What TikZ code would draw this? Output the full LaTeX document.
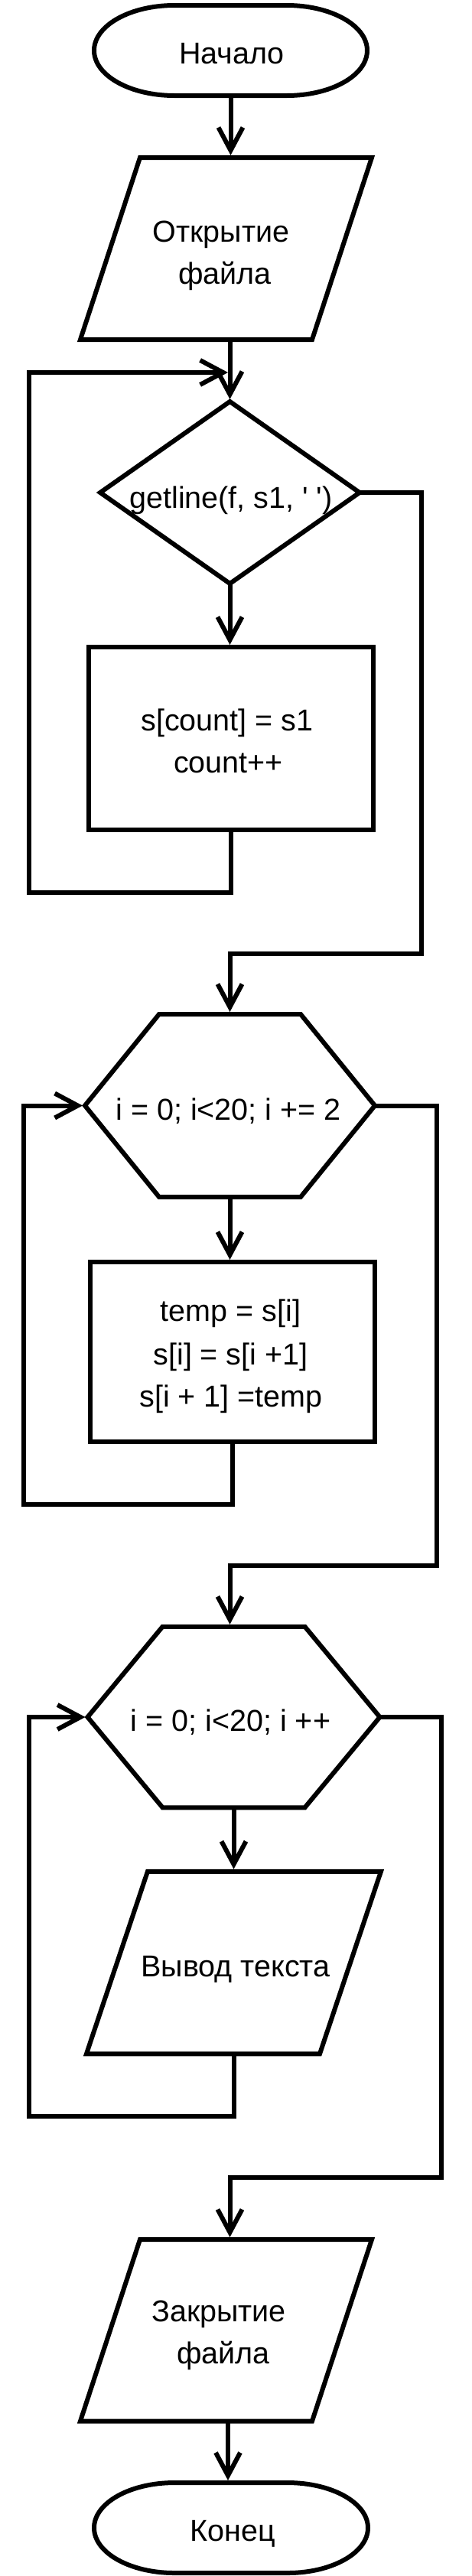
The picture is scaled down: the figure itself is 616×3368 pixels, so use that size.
\documentclass[tikz,border=0pt]{standalone}
\usepackage{fontspec}
\setmainfont{Liberation Sans}
\usetikzlibrary{arrows.meta,shapes.geometric,calc}
\newcommand{\stadiumpath}[1]{\draw[outline] ($(#1.north west)+(105,0)$) -- ($(#1.north east)+(-105,0)$) arc[start angle=90,end angle=-90,x radius=105pt,y radius=59pt] -- ($(#1.south west)+(105,0)$) arc[start angle=270,end angle=90,x radius=105pt,y radius=59pt] -- cycle;}
\newcommand{\parapath}[2]{\draw[outline] ($(#1.north west)+(#2,0)$) -- (#1.north east) -- ($(#1.south east)+(-#2,0)$) -- (#1.south west) -- cycle;}
\newcommand{\hexpath}[2]{\draw[outline] ($(#1.north west)+(#2,0)$) -- ($(#1.north east)+(-#2,0)$) -- (#1.east) -- ($(#1.south east)+(-#2,0)$) -- ($(#1.south west)+(#2,0)$) -- (#1.west) -- cycle;}
\begin{document}
\begin{tikzpicture}[x=1pt,y=-1pt,line width=6pt,
  shapebox/.style={rectangle,inner sep=0pt,outer sep=0pt},
  outline/.style={draw=black,fill=white,line width=6pt,line join=miter},
  procbox/.style={rectangle,draw=black,fill=white,inner sep=0pt,outer sep=0pt},
  lbl/.style={anchor=base,inner sep=0pt,outer sep=0pt,font=\fontsize{39.5}{47}\selectfont},
  arr/.style={draw=black,-{Straight Barb[length=30pt,width=32pt]},shorten >=3pt},
  conn/.style={draw=black}]
\fill[white] (0,0) rectangle (616,3368);
\useasboundingbox (0,0) rectangle (616,3368);

% shapes
\node[shapebox,minimum width=357pt,minimum height=118pt] (start) at (301.5,66) {};
\stadiumpath{start}
\node[shapebox,minimum width=381pt,minimum height=238pt] (p1) at (295.5,325) {};
\parapath{p1}{78}
\node[diamond,draw=black,fill=white,minimum width=339pt,minimum height=238pt,inner sep=0pt,outer sep=0pt] (d1) at (300.5,644) {};
\node[procbox,minimum width=372pt,minimum height=239pt] (r1) at (302,965.5) {};
\node[shapebox,minimum width=379pt,minimum height=239pt] (h1) at (300.5,1445.5) {};
\hexpath{h1}{97}
\node[procbox,minimum width=372pt,minimum height=235pt] (r2) at (304,1767.5) {};
\node[shapebox,minimum width=382pt,minimum height=236.5pt] (h2) at (305.5,2245) {};
\hexpath{h2}{98}
\node[shapebox,minimum width=385pt,minimum height=238.5pt] (p2) at (305.5,2566) {};
\parapath{p2}{80}
\node[shapebox,minimum width=381pt,minimum height=237.5pt] (p3) at (295.5,3046.75) {};
\parapath{p3}{78}
\node[shapebox,minimum width=358pt,minimum height=118pt] (end) at (302,3305) {};
\stadiumpath{end}

% labels
\node[lbl] (tstart) at (303,83) {Начало};
\node[lbl] (tp1a) at (289,316) {Открытие};
\node[lbl] (tp1b) at (294,371) {файла};
\node[lbl] (td1) at (302,664) {getline(f, s1, \textquotesingle\ \textquotesingle)};
\node[lbl] (tr1a) at (297,955) {s[count] = s1};
\node[lbl] (tr1b) at (298.5,1010) {count++};
\node[lbl] (th1) at (298.6,1464) {i = 0; i<20; i += 2};
\node[lbl] (tr2a) at (301.5,1727) {temp = s[i]};
\node[lbl] (tr2b) at (301.5,1784) {s[i] = s[i +1]};
\node[lbl] (tr2c) at (302,1839) {s[i + 1] =temp};
\node[lbl] (th2) at (301.5,2263.5) {i = 0; i<20; i ++};
\node[lbl] (tp2) at (308,2584) {Вывод текста};
\node[lbl] (tp3a) at (286,3035) {Закрытие};
\node[lbl] (tp3b) at (292,3090) {файла};
\node[lbl] (tend) at (304.5,3322) {Конец};

% helper coordinates for connector bends
\coordinate (j1) at (301,487);
\coordinate (L1) at (38,1167);
\coordinate (R1) at (550.5,1247);
\coordinate (L2) at (31,1967);
\coordinate (R2) at (570.5,2046.7);
\coordinate (L3) at (38,2767);
\coordinate (R3) at (577.2,2847.3);

% connectors
\draw[arr] (start.south) -- (start.south |- p1.north);
\draw[arr] (d1.north |- p1.south) -- (d1.north);
\draw[arr] (r1.south) |- (L1) |- (j1);
\draw[arr] (d1.south) -- (d1.south |- r1.north);
\draw[arr] (d1.east) -| (R1) -| (h1.north);
\draw[arr] (h1.south) -- (h1.south |- r2.north);
\draw[arr] (r2.south) |- (L2) |- (h1.west);
\draw[arr] (h1.east) -| (R2) -| (h2.north -| h1.south);
\draw[arr] (h2.south) -- (h2.south |- p2.north);
\draw[arr] (p2.south) |- (L3) |- (h2.west);
\draw[arr] (h2.east) -| (R3) -| (h1.south |- p3.north);
\draw[arr] ([xshift=2.5pt]p3.south) -- ([xshift=2.5pt]p3.south |- end.north);
\end{tikzpicture}
\end{document}
